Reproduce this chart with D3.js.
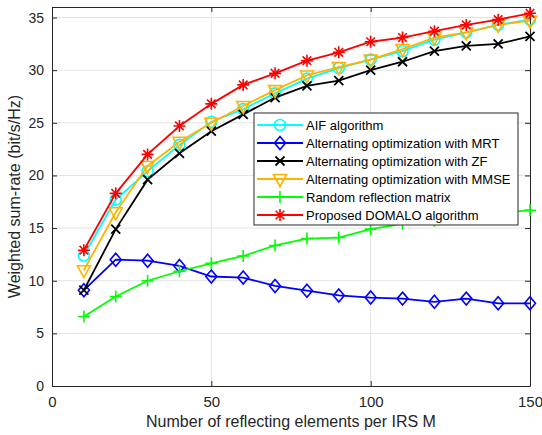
<!DOCTYPE html>
<html>
<head>
<meta charset="utf-8">
<script src="https://cdn.jsdelivr.net/npm/d3@7"></script>
<style>
  body { margin: 0; background: #fff; }
  text { font-family: "Liberation Sans", Arial, sans-serif; }
</style>
</head>
<body>
<div id="chart"></div>
<script>
// number of reflecting elements per IRS
var xValues = [10, 20, 30, 40, 50, 60, 70, 80, 90, 100, 110, 120, 130, 140, 150];

var aif    = [12.4, 17.7, 20.4, 22.9, 25.1, 26.3, 27.8, 29.2, 30.2, 31.0, 31.8, 32.9, 33.6, 34.3, 34.8];
var mrt    = [9.1, 12.0, 11.9, 11.4, 10.4, 10.3, 9.5, 9.05, 8.6, 8.4, 8.3, 8.0, 8.3, 7.85, 7.85];
var zf     = [9.1, 14.9, 19.6, 22.1, 24.2, 25.8, 27.4, 28.5, 29.0, 30.0, 30.8, 31.8, 32.3, 32.5, 33.2];
var mmse   = [11.0, 16.5, 20.9, 23.2, 25.0, 26.6, 28.1, 29.5, 30.3, 31.0, 32.0, 33.1, 33.6, 34.3, 34.7];
var random = [6.6, 8.5, 10.0, 10.9, 11.65, 12.35, 13.35, 14.0, 14.1, 14.9, 15.4, 15.7, 16.0, 16.4, 16.7];
var domalo = [12.9, 18.3, 22.0, 24.7, 26.8, 28.6, 29.7, 30.9, 31.7, 32.7, 33.1, 33.7, 34.3, 34.8, 35.4];

var xTicks = [0, 50, 100, 150];
var yTicks = [0, 5, 10, 15, 20, 25, 30, 35];

var series = [
  {name: "AIF algorithm", values: aif, color: "#00ffff", marker: "circle"},
  {name: "Alternating optimization with MRT", values: mrt, color: "#0000ff", marker: "diamond"},
  {name: "Alternating optimization with ZF", values: zf, color: "#000000", marker: "cross"},
  {name: "Alternating optimization with MMSE", values: mmse, color: "#ffb300", marker: "triangle"},
  {name: "Random reflection matrix", values: random, color: "#00ff00", marker: "plus"},
  {name: "Proposed DOMALO algorithm", values: domalo, color: "#ff0000", marker: "asterisk"}
];

var width = 542, height = 435;
var margin = {top: 7, right: 12, bottom: 49, left: 52};
var w = width - margin.left - margin.right;
var h = height - margin.top - margin.bottom;

var svg = d3.select("#chart").append("svg")
  .attr("width", width).attr("height", height);

var x = d3.scaleLinear().domain([0, 150]).range([0, w]);
var y = d3.scaleLinear().domain([0, 36]).range([h, 0]);

var g = svg.append("g").attr("transform", `translate(${margin.left},${margin.top})`);

// grid
g.append("g").selectAll("line").data(xTicks.slice(1, -1)).enter().append("line")
  .attr("x1", d => x(d)).attr("x2", d => x(d)).attr("y1", 0).attr("y2", h)
  .attr("stroke", "#e3e3e3").attr("stroke-width", 1);
g.append("g").selectAll("line").data(yTicks.slice(1)).enter().append("line")
  .attr("x1", 0).attr("x2", w).attr("y1", d => y(d)).attr("y2", d => y(d))
  .attr("stroke", "#e3e3e3").attr("stroke-width", 1);

// axes (ticks pointing inward, box all round)
var axisColor = "#262626";
function styleAxis(sel, size) {
  sel.select(".domain").attr("stroke", axisColor);
  sel.selectAll(".tick line").attr("stroke", axisColor);
  sel.selectAll(".tick text").attr("fill", axisColor).attr("font-size", size + "px")
    .attr("font-family", "Liberation Sans, Arial, sans-serif");
}
g.append("g").attr("transform", `translate(0,${h})`)
  .call(d3.axisBottom(x).tickValues(xTicks).tickSizeInner(-5).tickSizeOuter(0).tickPadding(10))
  .call(styleAxis, 15);
g.append("g")
  .call(d3.axisLeft(y).tickValues(yTicks).tickSizeInner(-5).tickSizeOuter(0).tickPadding(8))
  .call(styleAxis, 14);
g.append("g")
  .call(d3.axisTop(x).tickValues(xTicks).tickSizeInner(-5).tickSizeOuter(0).tickFormat(""))
  .call(styleAxis, 14);
g.append("g").attr("transform", `translate(${w},0)`)
  .call(d3.axisRight(y).tickValues(yTicks).tickSizeInner(-5).tickSizeOuter(0).tickFormat(""))
  .call(styleAxis, 14);

// marker drawing
function drawMarker(sel, type, color) {
  var s = 5.5;
  if (type === "circle") {
    sel.append("circle").attr("r", s).attr("fill", "none").attr("stroke", color).attr("stroke-width", 1.6);
  } else if (type === "diamond") {
    sel.append("path").attr("d", `M0,${-s - 1}L${s},0L0,${s + 1}L${-s},0Z`)
      .attr("fill", "none").attr("stroke", color).attr("stroke-width", 1.6);
  } else if (type === "triangle") {
    sel.append("path").attr("d", `M${-s - 1},${-s + 1}L${s + 1},${-s + 1}L0,${s + 2}Z`)
      .attr("fill", "none").attr("stroke", color).attr("stroke-width", 1.6);
  } else if (type === "cross") {
    var c = 4.5;
    sel.append("path").attr("d", `M${-c},${-c}L${c},${c}M${-c},${c}L${c},${-c}`)
      .attr("stroke", color).attr("stroke-width", 1.8);
  } else if (type === "plus") {
    var p = 6;
    sel.append("path").attr("d", `M${-p},0L${p},0M0,${-p}L0,${p}`)
      .attr("stroke", color).attr("stroke-width", 1.6);
  } else if (type === "asterisk") {
    var a = 6, b = 4.3;
    sel.append("path").attr("d", `M${-a},0L${a},0M0,${-a}L0,${a}M${-b},${-b}L${b},${b}M${-b},${b}L${b},${-b}`)
      .attr("stroke", color).attr("stroke-width", 1.6);
  }
}

var line = d3.line().x(d => x(d[0])).y(d => y(d[1]));

series.forEach(function(s) {
  var pts = xValues.map((v, i) => [v, s.values[i]]);
  var sg = g.append("g");
  sg.append("path").datum(pts).attr("d", line)
    .attr("fill", "none").attr("stroke", s.color).attr("stroke-width", 1.8);
  sg.selectAll("g.m").data(pts).enter().append("g").attr("class", "m")
    .attr("transform", d => `translate(${x(d[0])},${y(d[1])})`)
    .each(function() { drawMarker(d3.select(this), s.marker, s.color); });
});

// legend
var lx = 254 - margin.left, ly = 113 - margin.top, lw = 264, lh = 112;
var lg = g.append("g").attr("transform", `translate(${lx},${ly})`);
lg.append("rect").attr("width", lw).attr("height", lh)
  .attr("fill", "#fff").attr("stroke", axisColor).attr("stroke-width", 1);
series.forEach(function(s, i) {
  var ry = 12 + i * 18;
  var row = lg.append("g").attr("transform", `translate(0,${ry})`);
  row.append("line").attr("x1", 3).attr("x2", 49).attr("y1", 0).attr("y2", 0)
    .attr("stroke", s.color).attr("stroke-width", 1.8);
  var mg = row.append("g").attr("transform", "translate(26,0)");
  drawMarker(mg, s.marker, s.color);
  row.append("text").attr("x", 52).attr("y", 0).attr("dy", "0.35em")
    .attr("font-size", "13px").attr("fill", "#000").text(s.name);
});

// axis labels
svg.append("text").attr("x", margin.left + w / 2).attr("y", 427)
  .attr("text-anchor", "middle").attr("font-size", "16px").attr("fill", axisColor)
  .text("Number of reflecting elements per IRS M");
svg.append("text").attr("transform", `translate(20,${margin.top + h / 2}) rotate(-90)`)
  .attr("text-anchor", "middle").attr("font-size", "16px").attr("fill", axisColor)
  .text("Weighted sum-rate (bit/s/Hz)");
</script>
</body>
</html>
